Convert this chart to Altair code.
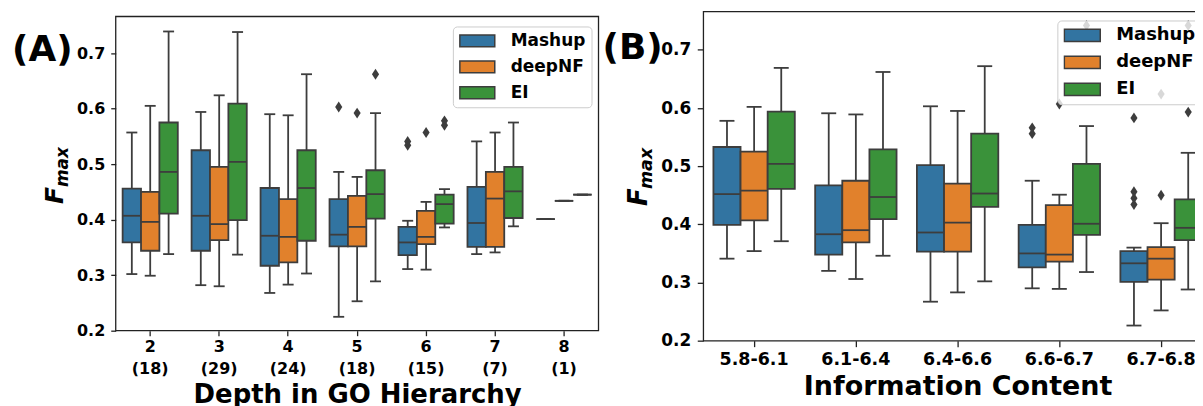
import altair as alt
import pandas as pd

FONT = "DejaVu Sans"
GRAY = "#3d3d3d"

methods = ["Mashup", "deepNF", "EI"]
colors = ["#3274a1", "#e1812c", "#3a923a"]

# ---------------- Panel A: depth in GO hierarchy ----------------
a_depths = ["2", "3", "4", "5", "6", "7", "8"]
a_counts = [18, 29, 24, 18, 15, 7, 1]
# each row: [Mashup, deepNF, EI]
a_low = [[.302, .299, .338], [.282, .280, .337], [.268, .283, .303], [.225, .253, .289],
         [.311, .310, .386], [.338, .341, .388], [.401, .434, .445]]
a_q1 = [[.359, .344, .411], [.344, .363, .399], [.317, .323, .362], [.352, .352, .402],
        [.336, .356, .393], [.351, .351, .403], [.401, .434, .445]]
a_med = [[.407, .396, .486], [.407, .392, .504], [.371, .369, .457], [.373, .387, .446],
         [.359, .369, .428], [.394, .438, .451], [.401, .434, .445]]
a_q3 = [[.456, .450, .575], [.525, .495, .609], [.457, .437, .525], [.437, .443, .489],
        [.387, .416, .445], [.459, .486, .495], [.401, .434, .445]]
a_high = [[.557, .605, .739], [.594, .624, .738], [.590, .588, .662], [.486, .477, .592],
          [.398, .432, .455], [.541, .557, .575], [.401, .434, .445]]
a_out_depth = ["5", "5", "5", "6", "6", "6", "6", "6"]
a_out_method = ["Mashup", "deepNF", "EI", "Mashup", "Mashup", "deepNF", "EI", "EI"]
a_out_value = [.603, .592, .662, .534, .541, .557, .570, .578]

# ---------------- Panel B: information content ----------------
b_bins = ["5.8-6.1", "6.1-6.4", "6.4-6.6", "6.6-6.7", "6.7-6.8"]
b_low = [[.341, .354, .371], [.320, .306, .346], [.267, .283, .302], [.290, .289, .318], [.226, .252, .288]]
b_q1 = [[.399, .407, .461], [.348, .369, .409], [.353, .353, .430], [.326, .336, .382], [.301, .305, .373]]
b_med = [[.452, .458, .504], [.383, .390, .447], [.386, .403, .453], [.350, .348, .401], [.333, .341, .394]]
b_q3 = [[.533, .525, .594], [.467, .475, .529], [.502, .470, .556], [.399, .433, .504], [.354, .361, .443]]
b_high = [[.578, .602, .669], [.591, .589, .662], [.603, .595, .672], [.475, .451, .569], [.360, .402, .523]]
b_out_bin = ["6.6-6.7", "6.6-6.7", "6.6-6.7", "6.6-6.7", "6.7-6.8", "6.7-6.8", "6.7-6.8",
             "6.7-6.8", "6.7-6.8", "6.7-6.8", "6.7-6.8", "6.7-6.8"]
b_out_method = ["Mashup", "Mashup", "deepNF", "EI", "Mashup", "Mashup", "Mashup", "Mashup",
                "deepNF", "deepNF", "EI", "EI"]
b_out_value = [.556, .566, .607, .742, .434, .445, .456, .583, .450, .624, .593, .742]

Y_LOW = 0.2
Y_TOP = 0.766       # top of the plotting frame in both panels

RECT = "M-1,-0.34H1V0.34H-1Z"
DIAMOND = "M0,-1L0.66,0L0,1L-0.66,0Z"


def box_frame(cats, low, q1, med, q3, high):
    rows = []
    for i, c in enumerate(cats):
        for j, m in enumerate(methods):
            rows.append({"cat": c, "method": m, "low": low[i][j], "q1": q1[i][j],
                         "med": med[i][j], "q3": q3[i][j], "high": high[i][j]})
    return pd.DataFrame(rows)


def panel(df, out_df, cats, width, height, ytop, box_w, cap_w, xaxis, yaxis, legend,
          tag, tag_xy, f_xy, sub_xy, f_size, sub_size, tag_size, frame=False):
    base = alt.Chart(df)
    X = alt.X("cat:N", sort=cats,
              scale=alt.Scale(domain=cats, paddingInner=0.2, paddingOuter=0.1),
              axis=xaxis)
    XO = alt.XOffset("method:N", sort=methods,
                     scale=alt.Scale(domain=methods, paddingInner=0, paddingOuter=0))
    ysc = alt.Scale(domain=[Y_LOW, ytop], nice=False, zero=False)

    def Y(f):
        return alt.Y(f"{f}:Q", scale=ysc, axis=yaxis)

    layers = []
    if frame:
        fr = alt.Chart(pd.DataFrame({"k": [0]})).mark_rect(
            filled=False, stroke="#222", strokeWidth=1.3).encode(
            x=alt.value(0), x2=alt.value(width),
            y=alt.Y(datum=Y_TOP, type="quantitative", scale=ysc, axis=yaxis),
            y2=alt.Y2(datum=Y_LOW))
        layers.append(fr)

    wl = base.mark_rule(color=GRAY, strokeWidth=1.8).encode(x=X, xOffset=XO, y=Y("low"), y2="q1:Q")
    wh = base.mark_rule(color=GRAY, strokeWidth=1.8).encode(x=X, xOffset=XO, y=Y("q3"), y2="high:Q")
    cl = base.mark_tick(color=GRAY, size=cap_w, thickness=1.8, opacity=1).encode(x=X, xOffset=XO, y=Y("low"))
    ch = base.mark_tick(color=GRAY, size=cap_w, thickness=1.8, opacity=1).encode(x=X, xOffset=XO, y=Y("high"))
    box = base.mark_bar(stroke=GRAY, strokeWidth=1.8, opacity=1).encode(
        x=X, xOffset=XO, y=Y("q1"), y2="q3:Q",
        color=alt.Color("method:N", sort=methods,
                        scale=alt.Scale(domain=methods, range=colors), legend=legend))
    md = base.mark_tick(color=GRAY, size=box_w, thickness=1.8, opacity=1).encode(x=X, xOffset=XO, y=Y("med"))
    outl = alt.Chart(out_df).mark_point(shape=DIAMOND, filled=True, size=118, color=GRAY,
                                        opacity=1).encode(x=X, xOffset=XO, y=Y("value"))

    tagm = alt.Chart(pd.DataFrame({"t": [tag]})).mark_text(
        font=FONT, fontWeight="bold", fontSize=tag_size, align="left",
        baseline="alphabetic", color="black").encode(
        x=alt.value(tag_xy[0]), y=alt.value(tag_xy[1]), text="t:N")
    fm = alt.Chart(pd.DataFrame({"t": ["F"]})).mark_text(
        font=FONT, fontWeight="bold", fontStyle="italic", fontSize=f_size, angle=270,
        align="left", baseline="alphabetic", color="black").encode(
        x=alt.value(f_xy[0]), y=alt.value(f_xy[1]), text="t:N")
    sm = alt.Chart(pd.DataFrame({"t": ["max"]})).mark_text(
        font=FONT, fontWeight="bold", fontStyle="italic", fontSize=sub_size, angle=270,
        align="left", baseline="alphabetic", color="black").encode(
        x=alt.value(sub_xy[0]), y=alt.value(sub_xy[1]), text="t:N")

    layers += [wl, wh, cl, ch, box, md, outl, tagm, fm, sm]
    ch_ = alt.layer(*layers).properties(width=width, height=height)
    if frame:
        ch_ = ch_.properties(view=alt.ViewBackground(stroke="transparent"))
    return ch_


yvals = [0.2, 0.3, 0.4, 0.5, 0.6, 0.7]

a_cats = [f"{d} ({n})" for d, n in zip(a_depths, a_counts)]
a_df = box_frame(a_cats, a_low, a_q1, a_med, a_q3, a_high)
a_lab = dict(zip(a_depths, a_cats))
a_out = pd.DataFrame({"cat": [a_lab[d] for d in a_out_depth], "method": a_out_method,
                      "value": a_out_value})

b_df = box_frame(b_bins, b_low, b_q1, b_med, b_q3, b_high)
b_out = pd.DataFrame({"cat": b_out_bin, "method": b_out_method, "value": b_out_value})

axA_x = alt.Axis(title="Depth in GO Hierarchy", labelExpr="split(datum.label, ' ')",
                 labelLineHeight=21.6, labelFont=FONT, labelFontWeight="bold", labelFontSize=16,
                 labelColor="black", labelAngle=0, labelPadding=3, tickSize=5, tickWidth=1.3,
                 tickColor="#222", domain=False, grid=False, titleFont=FONT, titleFontWeight="bold",
                 titleFontSize=26, titleColor="black", titlePadding=5, labelOverlap=False)
axA_y = alt.Axis(title=None, values=yvals, format=".1f", labelFont=FONT, labelFontWeight="bold",
                 labelFontSize=16, labelColor="black", labelPadding=6, tickSize=5, tickWidth=1.3,
                 tickColor="#222", domain=False, grid=False)
legA = alt.Legend(title=None, orient="none", legendX=338, legendY=15, symbolType=RECT,
                  symbolSize=1225, symbolStrokeColor=GRAY, symbolStrokeWidth=1.5,
                  symbolOpacity=1, labelFont=FONT, labelFontWeight="bold", labelFontSize=17,
                  labelColor="black", labelOffset=15, padding=6, rowPadding=8, clipHeight=17,
                  fillColor="rgba(255,255,255,0.8)", strokeColor="#cccccc", cornerRadius=4)

axB_x = alt.Axis(title="Information Content", labelFont=FONT, labelFontWeight="bold",
                 labelFontSize=17.5, labelColor="black", labelAngle=0, labelPadding=4, tickSize=6,
                 tickWidth=1.3, tickColor="#222", domain=False, grid=False, titleFont=FONT,
                 titleFontWeight="bold", titleFontSize=27, titleColor="black", titlePadding=5,
                 labelOverlap=False)
axB_y = alt.Axis(title=None, values=yvals, format=".1f", labelFont=FONT, labelFontWeight="bold",
                 labelFontSize=17, labelColor="black", labelPadding=6.5, tickSize=6, tickWidth=1.3,
                 tickColor="#222", domain=False, grid=False)
legB = alt.Legend(title=None, orient="none", legendX=355, legendY=9, symbolType=RECT,
                  symbolSize=1296, symbolStrokeColor=GRAY, symbolStrokeWidth=1.5,
                  symbolOpacity=1, labelFont=FONT, labelFontWeight="bold", labelFontSize=18,
                  labelColor="black", labelOffset=15, padding=6, rowPadding=9, clipHeight=18,
                  fillColor="rgba(255,255,255,0.8)", strokeColor="#cccccc", cornerRadius=4)

# panel A: its view starts higher than its frame so that its frame sits lower than B's
A_H = 320
A_YTOP = Y_LOW + (Y_TOP - Y_LOW) * A_H / 315.0
pA = panel(a_df, a_out, a_cats, 484, A_H, A_YTOP, 18.4, 11, axA_x, axA_y, legA,
           "(A)", (-104, 50), (-53, 193), (-48, 176), 25, 17, 36, frame=True)
pB = panel(b_df, b_out, b_bins, 510, 330, Y_TOP, 27.2, 15, axB_x, axB_y, legB,
           "(B)", (-101, 48), (-56, 195), (-51, 178), 26, 17.5, 36)

chart = alt.hconcat(pA, pB, spacing=1).resolve_legend(
    color="independent").resolve_scale(xOffset="independent").properties(
    padding={"left": 3, "top": 2, "right": -18, "bottom": 0}).configure_view(
    stroke="#222", strokeWidth=1.3)

chart.save("out.html", embed_options={"renderer": "svg", "actions": False})
